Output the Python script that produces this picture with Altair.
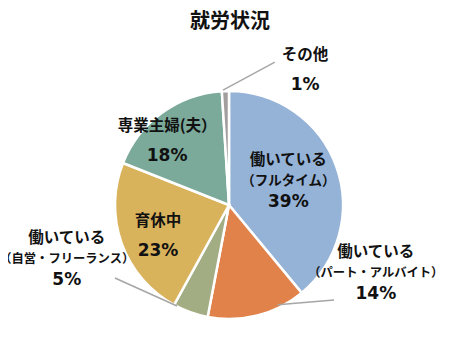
import math
import pandas as pd
import altair as alt

# ---- data ----
categories = ["働いている（フルタイム）", "働いている（パート・アルバイト）", "働いている（自営・フリーランス）",
              "育休中", "専業主婦(夫）", "その他"]
values = [39, 14, 5, 23, 18, 1]
colors = ["#95B3D7", "#E0824A", "#A3AD83", "#D9B25C", "#7BA99A", "#A39E9E"]

# label lines (name lines, percentage comes from values)
label_names = [["働いている", "（フルタイム）"],
               ["働いている", "（パート・アルバイト）"],
               ["働いている", "（自営・フリーランス）"],
               ["育休中"],
               ["専業主婦(夫）"],
               ["その他"]]
# label anchor placement (angle deg clockwise from top, radius px)
label_angle = [68, 115, 251.6, 246.4, 315.9, 29.4]
label_radius = [64, 162, 171, 77.5, 89, 155]
paren_size = [13.5, 12.3, 12.3, 0, 0, 0]

# leader lines for outside labels: (category index, start angle, start r, end angle, end r)
leaders = [(5, 357, 115, 17.8, 150),
           (1, 154, 111, 132.1, 141.6),
           (2, 207.2, 113.6, 237.4, 135.4)]

# ---- layout ----
PAD_TOP = 40
CX, CY = 221, 157      # pie centre in view coordinates
R = 114
W, H = 444, 304

df = pd.DataFrame({"cat": categories, "value": values, "order": list(range(len(values)))})

rows = []
for i, c in enumerate(categories):
    names = label_names[i]
    pct = f"{values[i]}%"
    if len(names) == 2:
        rows.append(dict(cat=c, text=names[0], slot="n3", fs=15.5, lt=label_angle[i], lr=label_radius[i]))
        rows.append(dict(cat=c, text=names[1], slot="p3", fs=paren_size[i], lt=label_angle[i], lr=label_radius[i]))
        rows.append(dict(cat=c, text=pct, slot="v3", fs=17, lt=label_angle[i], lr=label_radius[i]))
    else:
        rows.append(dict(cat=c, text=names[0], slot="n2", fs=15.5, lt=label_angle[i], lr=label_radius[i]))
        rows.append(dict(cat=c, text=pct, slot="v2", fs=17, lt=label_angle[i], lr=label_radius[i]))
tdf = pd.DataFrame(rows)

lrows = []
for idx, a1, r1, a2, r2 in leaders:
    lrows.append(dict(cat=categories[idx],
                      x=CX + r1 * math.sin(math.radians(a1)), y=CY - r1 * math.cos(math.radians(a1)),
                      x2=CX + r2 * math.sin(math.radians(a2)), y2=CY - r2 * math.cos(math.radians(a2))))
ldf = pd.DataFrame(lrows)

pie = alt.Chart(df).mark_arc(radius=R, stroke="white", strokeWidth=2.5).encode(
    theta=alt.Theta("value:Q", stack=True),
    order=alt.Order("order:Q"),
    color=alt.Color("cat:N", scale=alt.Scale(domain=categories, range=colors), legend=None),
    x=alt.value(CX), y=alt.value(CY),
)

lines = alt.Chart(ldf).mark_rule(color="#A6A6A6", strokeWidth=1.5).encode(
    x=alt.X("x:Q", scale=None), y=alt.Y("y:Q", scale=None),
    x2="x2:Q", y2="y2:Q",
)

slot_cfg = {"n3": (-21, "Noto Sans CJK JP"), "p3": (0, "Noto Sans CJK JP"), "v3": (21, "DejaVu Sans"),
            "n2": (-15, "Noto Sans CJK JP"), "v2": (15, "DejaVu Sans")}
text_layers = []
for slot, (dy, font) in slot_cfg.items():
    text_layers.append(
        alt.Chart(tdf).transform_filter(alt.datum.slot == slot).mark_text(
            dy=dy, font=font, fontWeight="bold", color="#111111", align="center", baseline="middle"
        ).encode(
            theta=alt.Theta("lt:Q", scale=alt.Scale(domain=[0, 360], range=[0, 2 * math.pi]), stack=None),
            radius=alt.Radius("lr:Q", scale=None),
            text="text:N",
            size=alt.Size("fs:Q", scale=None),
            x=alt.value(CX), y=alt.value(CY),
        )
    )

chart = alt.layer(pie, lines, *text_layers).resolve_scale(
    theta="independent", radius="independent", size="independent"
).properties(
    width=W, height=H,
    title=alt.TitleParams("就労状況", fontSize=20, font="Noto Sans CJK JP", fontWeight="bold",
                          color="#111111", anchor="middle", offset=16),
    autosize=alt.AutoSizeParams(type="none"),
    padding={"left": 0, "top": PAD_TOP, "right": 0, "bottom": 0},
).configure_view(stroke=None)

chart.save("out.html", embed_options={"renderer": "svg", "actions": False})
